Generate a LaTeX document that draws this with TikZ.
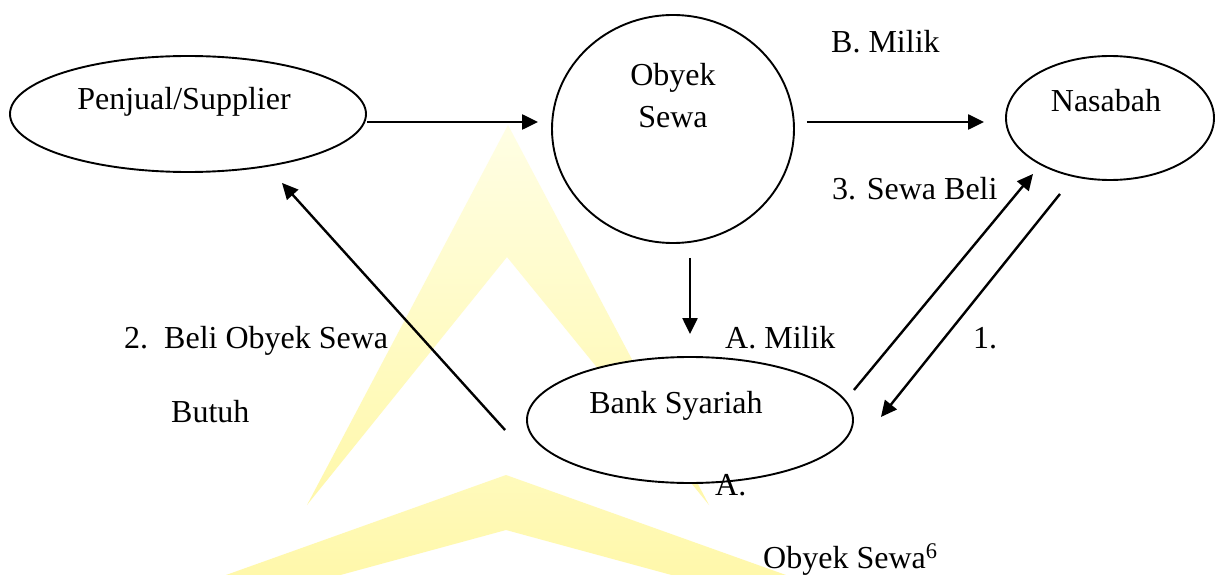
\documentclass[tikz,border=0pt]{standalone}
\usepackage{fontspec}
\setmainfont{Liberation Serif}
\usetikzlibrary{shapes.geometric,arrows.meta}

\definecolor{wmpale}{RGB}{255,254,228}
\definecolor{wmdeep}{RGB}{255,248,170}

\tikzset{
  entity/.style={shape=ellipse, draw, fill=white, line width=1.9pt, inner sep=0pt},
  flow/.style={line width=2.4pt, -{Triangle[length=16pt,width=15pt]}},
  lbl/.style={inner sep=0pt, font=\fontsize{32}{38}\selectfont},
}

\begin{document}
\begin{tikzpicture}[x=1pt,y=-1pt]
  \useasboundingbox (0,0) rectangle (1219,575);
  \fill[white] (0,0) rectangle (1219,575);

  % faint yellow emblem in the background
  \begin{scope}
    \clip (0,0) rectangle (1219,575);
    \shade[top color=wmpale, bottom color=wmdeep]
      (307,505) -- (508,125) -- (709,505) -- (507,257) -- cycle;
    \shade[top color=wmdeep!70!wmpale, bottom color=wmdeep]
      (506,475) -- (800,580) -- (690,580) -- (506,530) -- (322,580) -- (212,580) -- cycle;
  \end{scope}

  % parties and object
  \node[entity, minimum width=356pt, minimum height=116pt] (penjual) at (188,114) {};
  \node[entity, minimum width=242pt, minimum height=228pt] (obyek)   at (673,129) {};
  \node[entity, minimum width=208pt, minimum height=124pt] (nasabah) at (1110,118) {};
  \node[entity, minimum width=326pt, minimum height=126pt] (bank)    at (690,420) {};

  % flows
  \draw[flow] ([shift={(0pt,-8pt)}]penjual.east) -- ([shift={(-13pt,7pt)}]obyek.west);
  \draw[flow] ([shift={(12pt,7pt)}]obyek.east) -- ([shift={(-21pt,-4pt)}]nasabah.west);
  \draw[flow] ([shift={(17pt,-14pt)}]obyek.south) -- ([shift={(0pt,22pt)}]bank.north);
  \draw[flow] ([shift={(0pt,30pt)}]bank.east) -- ([shift={(-77pt,7pt)}]nasabah.south);
  \draw[flow] ([shift={(-50pt,-13pt)}]nasabah.south) -- ([shift={(27pt,3pt)}]bank.east);
  \draw[flow] ([shift={(-21pt,-10pt)}]bank.west) -- ([shift={(94pt,-10pt)}]penjual.south);

  % names inside the shapes
  \node[lbl, anchor=base] (tpenjual) at (184,110) {Penjual/Supplier};
  \node[lbl, anchor=base] (tobyek1)  at (673,86)  {Obyek};
  \node[lbl, anchor=base] (tobyek2)  at (673,128) {Sewa};
  \node[lbl, anchor=base] (tnasabah) at (1106,112) {Nasabah};
  \node[lbl, anchor=base] (tbank)    at (676,413) {Bank Syariah};

  % flow labels
  \node[lbl, anchor=base west] (lbmilik) at (831,53)  {B. Milik};
  \node[lbl, anchor=base west] (lsewa)   at (832,200) {3. Sewa Beli};
  \node[lbl, anchor=base west] (lbeli)   at (124,348) {2.\hspace{0.5em}Beli Obyek Sewa};
  \node[lbl, anchor=base west] (lamilik) at (725,348) {A. Milik};
  \node[lbl, anchor=base west] (lsatu)   at (973,348) {1.};
  \node[lbl, anchor=base west] (lbutuh)  at (171,422) {Butuh};
  \node[lbl, anchor=base west] (la)      at (715,495) {A.};
  \node[lbl, anchor=base west] (lobyek)  at (763,568) {Obyek Sewa\textsuperscript{6}};
\end{tikzpicture}
\end{document}
